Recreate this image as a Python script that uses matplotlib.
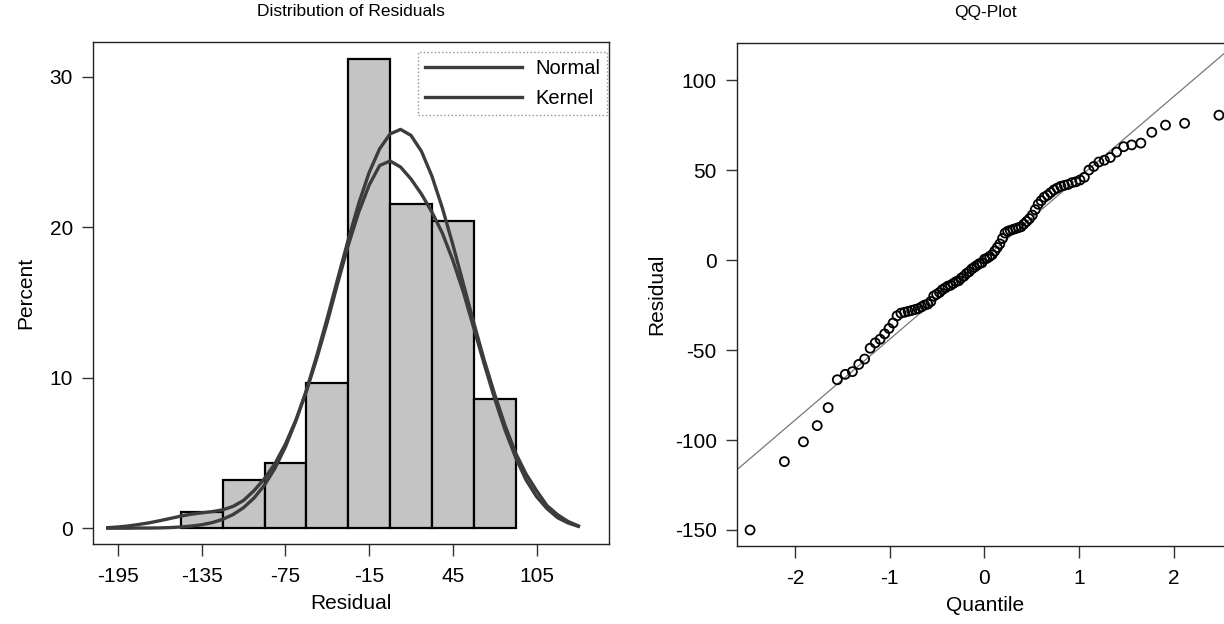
import matplotlib
matplotlib.use("Agg")
import matplotlib.pyplot as plt

plt.rcParams["font.family"] = ["Liberation Sans", "DejaVu Sans"]
plt.rcParams["axes.unicode_minus"] = False

# histogram of residuals (percent per 30-wide bin)
bin_centers = [-135, -105, -75, -45, -15, 15, 45, 75]
bin_percent = [1.08, 3.23, 4.30, 9.68, 31.18, 21.51, 20.43, 8.60]
hist_xticks = [-195, -135, -75, -15, 45, 105]
hist_yticks = [0, 10, 20, 30]

# fitted curves
curve_x = [-202.5, -195, -187.5, -180, -172.5, -165, -157.5, -150, -142.5, -135,
           -127.5, -120, -112.5, -105, -97.5, -90, -82.5, -75, -67.5, -60,
           -52.5, -45, -37.5, -30, -22.5, -15, -7.5, 0, 7.5, 15,
           22.5, 30, 37.5, 45, 52.5, 60, 67.5, 75, 82.5, 90,
           97.5, 105, 112.5, 120, 127.5, 135]
normal_y = [0.0, 0.0, 0.0, 0.01, 0.01, 0.02, 0.04, 0.08, 0.14, 0.23,
            0.37, 0.59, 0.91, 1.37, 2.01, 2.87, 3.99, 5.41, 7.14, 9.17,
            11.49, 13.99, 16.6, 19.18, 21.58, 23.64, 25.21, 26.2, 26.5, 26.1,
            25.04, 23.39, 21.27, 18.84, 16.25, 13.65, 11.16, 8.89, 6.8, 5.0,
            3.6, 2.5, 1.5, 0.9, 0.45, 0.15]
kernel_y = [0.03, 0.08, 0.15, 0.25, 0.36, 0.5, 0.65, 0.8, 0.93, 1.02,
            1.1, 1.22, 1.45, 1.85, 2.5, 3.3, 4.3, 5.6, 7.2, 9.1,
            11.3, 13.7, 16.3, 18.8, 21.0, 22.8, 24.1, 24.4, 24.0, 23.2,
            22.2, 21.0, 19.6, 17.8, 15.7, 13.3, 10.9, 8.6, 6.5, 4.7,
            3.2, 2.1, 1.3, 0.7, 0.35, 0.12]

# QQ plot: theoretical quantiles and sorted residuals
qq_quantile = [
    -2.472, -2.110, -1.909, -1.764, -1.649, -1.552, -1.468, -1.393, -1.326, -1.264,
    -1.206, -1.152, -1.101, -1.053, -1.007, -0.964, -0.922, -0.881, -0.843, -0.805,
    -0.768, -0.733, -0.698, -0.664, -0.631, -0.598, -0.566, -0.535, -0.504, -0.474,
    -0.445, -0.415, -0.386, -0.357, -0.329, -0.300, -0.272, -0.245, -0.217, -0.190,
    -0.162, -0.135, -0.108, -0.081, -0.054, -0.027, 0.000, 0.027, 0.054, 0.081,
    0.108, 0.135, 0.162, 0.190, 0.217, 0.245, 0.272, 0.300, 0.329, 0.357,
    0.386, 0.415, 0.445, 0.474, 0.504, 0.535, 0.566, 0.598, 0.631, 0.664,
    0.698, 0.733, 0.768, 0.805, 0.843, 0.881, 0.922, 0.964, 1.007, 1.053,
    1.101, 1.152, 1.206, 1.264, 1.326, 1.393, 1.468, 1.552, 1.649, 1.764,
    1.909, 2.110, 2.472,
]
qq_residual = [
    -150, -112, -101, -92, -82, -66.5, -63.5, -62, -58, -55,
    -49, -46, -44, -41, -38, -35, -31, -29.5, -29, -28.5,
    -28, -27.5, -27, -26, -25, -24.5, -23, -20, -19, -18,
    -16.5, -15.5, -14.5, -14, -13, -12, -11.5, -10, -9, -7.5,
    -6.5, -5, -4, -3, -2, -1.5, 0.5, 1, 2, 3,
    5, 7, 9, 12, 15, 16, 16.5, 17, 17.5, 18,
    18.5, 20, 21.5, 23, 25, 28, 31, 33, 35, 36,
    37.5, 39, 40, 41, 41.5, 42, 43, 43.5, 44.5, 46,
    50, 52, 54.5, 55.5, 57, 60, 63, 64, 65, 71,
    75, 76, 80.5,
]
ref_x = [-2.63, 2.62]
ref_y = [-117.4, 119.0]
qq_xticks = [-2, -1, 0, 1, 2]
qq_yticks = [-150, -100, -50, 0, 50, 100]


def style_axes(ax):
    for side in ax.spines.values():
        side.set_linewidth(1.0)
        side.set_color("#222222")
    ax.tick_params(axis="both", labelsize=15, width=1, color="#333333")
    ax.tick_params(axis="x", length=8.5, pad=8)
    ax.tick_params(axis="y", length=8, pad=6.5)


fig = plt.figure(figsize=(12.24, 6.24), dpi=100)

ax1 = fig.add_axes([0.076, 0.128, 0.4216, 0.8045])
ax1.bar(bin_centers, bin_percent, width=30, color="#c4c4c4",
        edgecolor="black", linewidth=1.6, zorder=2)
ax1.plot(curve_x, normal_y, color="#3c3c3c", linewidth=2.4, label="Normal", zorder=3)
ax1.plot(curve_x, kernel_y, color="#3c3c3c", linewidth=2.4, label="Kernel", zorder=3)
ax1.set_xlim(-213, 157)
ax1.set_ylim(-1.06, 32.3)
ax1.set_xticks(hist_xticks)
ax1.set_yticks(hist_yticks)
ax1.set_xlabel("Residual", fontsize=15, labelpad=6)
ax1.set_ylabel("Percent", fontsize=15, labelpad=10)
ax1.set_title("Distribution of Residuals", fontsize=12.5, pad=19)
style_axes(ax1)
leg = ax1.legend(loc="upper right", bbox_to_anchor=(0.996, 0.98),
                 borderaxespad=0, fontsize=14.5, handlelength=4.8,
                 frameon=True, fancybox=False, handletextpad=0.65,
                 borderpad=0.35, labelspacing=0.55)
leg.get_frame().set_edgecolor("#777777")
leg.get_frame().set_linestyle(":")
leg.get_frame().set_linewidth(1.0)

ax2 = fig.add_axes([0.6021, 0.125, 0.406, 0.806])
ax2.plot(ref_x, ref_y, color="#777777", linewidth=0.9, zorder=2)
ax2.scatter(qq_quantile, qq_residual, s=42, facecolors="none",
            edgecolors="black", linewidths=1.3, zorder=3)
ax2.set_xlim(-2.61, 2.63)
ax2.set_ylim(-158.9, 120.6)
ax2.set_xticks(qq_xticks)
ax2.set_yticks(qq_yticks)
ax2.set_xlabel("Quantile", fontsize=15, labelpad=6)
ax2.set_ylabel("Residual", fontsize=15, labelpad=6)
ax2.set_title("QQ-Plot", fontsize=12.5, pad=19)
style_axes(ax2)

fig.savefig("out.png", dpi=100, facecolor="white")
